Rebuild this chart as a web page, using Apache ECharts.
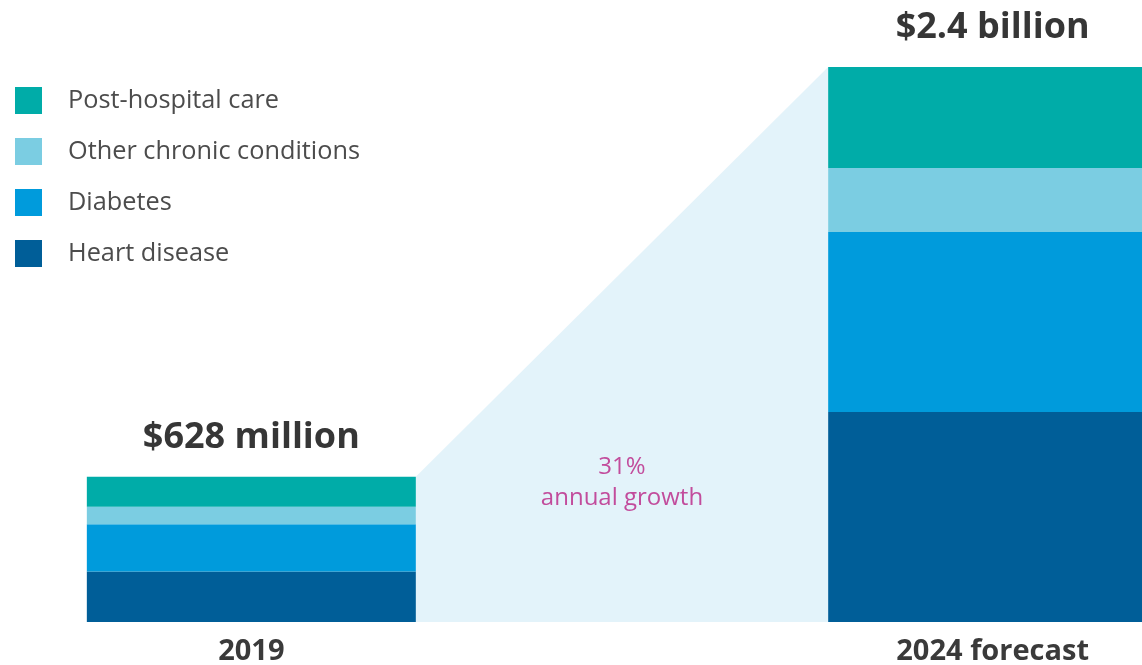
<!DOCTYPE html>
<html>
<head>
<meta charset="utf-8">
<style>
  html, body { margin: 0; padding: 0; background: #ffffff; }
  #chart { width: 1142px; height: 665px; }
</style>
<script src="https://cdn.jsdelivr.net/npm/echarts@6/dist/echarts.min.js"></script>
</head>
<body>
<div id="chart"></div>
<script>
// Spending by condition, in millions of dollars
const categories = ['2019', '', '2024 forecast'];
const heartDisease = [218, null, 908];
const diabetes = [205, null, 778];
const otherChronic = [75, null, 277];
const postHospital = [130, null, 437];
const totalLabels = ['$628 million', '', '$2.4 billion'];
const growthLabel = ['31%', 'annual growth'];

const colors = {
  post: '#00aca8',
  other: '#7bcde2',
  diabetes: '#009bdc',
  heart: '#005e98'
};

const BAR_W = 329;
const font = '"Open Sans", "Noto Sans", sans-serif';

const totals = categories.map((_, i) =>
  (heartDisease[i] || 0) + (diabetes[i] || 0) + (otherChronic[i] || 0) + (postHospital[i] || 0));

const chart = echarts.init(document.getElementById('chart'), null, { renderer: 'canvas' });

const barBase = {
  type: 'bar',
  stack: 'total',
  barWidth: BAR_W,
  z: 3,
  emphasis: { disabled: true }
};

chart.setOption({
  animation: false,
  backgroundColor: '#ffffff',
  // the last bar runs past the right edge of the canvas
  grid: { left: 66, width: 1112, top: 67, bottom: 43, outerBoundsMode: 'none', containLabel: false },
  legend: {
    orient: 'vertical',
    left: 10,
    top: 82,
    icon: 'rect',
    itemWidth: 27,
    itemHeight: 27,
    itemGap: 24,
    selectedMode: false,
    data: ['Post-hospital care', 'Other chronic conditions', 'Diabetes', 'Heart disease'],
    textStyle: {
      fontFamily: font,
      fontSize: 25.3,
      color: '#4c4c4c',
      padding: [2, 0, 0, 21]
    }
  },
  xAxis: {
    type: 'category',
    data: categories,
    axisLine: { show: false },
    axisTick: { show: false },
    axisLabel: {
      margin: 15,
      fontFamily: font,
      fontWeight: 'bold',
      fontSize: 29,
      color: '#3a3a3a'
    }
  },
  yAxis: {
    type: 'value',
    min: 0,
    max: 2400,
    show: false,
    splitLine: { show: false }
  },
  series: [
    {
      // shaded growth band joining the two bar tops
      type: 'custom',
      z: 1,
      silent: true,
      data: [0],
      renderItem: function (params, api) {
        const p0 = api.coord([0, totals[0]]);
        const p2 = api.coord([2, totals[2]]);
        const base = api.coord([0, 0])[1];
        const mid = api.coord([1, 0])[0];
        const xl = p0[0] + BAR_W / 2;
        const xr = p2[0] - BAR_W / 2;
        return {
          type: 'group',
          children: [
            {
              type: 'polygon',
              shape: { points: [[xl, p0[1]], [xr, p2[1]], [xr, base], [xl, base]] },
              style: { fill: '#e3f3fa' }
            },
            {
              type: 'text',
              style: {
                x: mid, y: 483,
                text: growthLabel.join('\n'),
                align: 'center', verticalAlign: 'middle',
                fontFamily: font, fontSize: 24, lineHeight: 31,
                fill: '#c24c9c'
              }
            }
          ]
        };
      }
    },
    Object.assign({}, barBase, {
      name: 'Heart disease',
      data: heartDisease,
      itemStyle: { color: colors.heart }
    }),
    Object.assign({}, barBase, {
      name: 'Diabetes',
      data: diabetes,
      itemStyle: { color: colors.diabetes }
    }),
    Object.assign({}, barBase, {
      name: 'Other chronic conditions',
      data: otherChronic,
      itemStyle: { color: colors.other }
    }),
    Object.assign({}, barBase, {
      name: 'Post-hospital care',
      data: postHospital,
      itemStyle: { color: colors.post },
      label: {
        show: true,
        position: 'top',
        distance: 21,
        formatter: function (p) { return totalLabels[p.dataIndex]; },
        fontFamily: font,
        fontWeight: 'bold',
        fontSize: 36,
        color: '#363636'
      }
    })
  ]
});
</script>
</body>
</html>
